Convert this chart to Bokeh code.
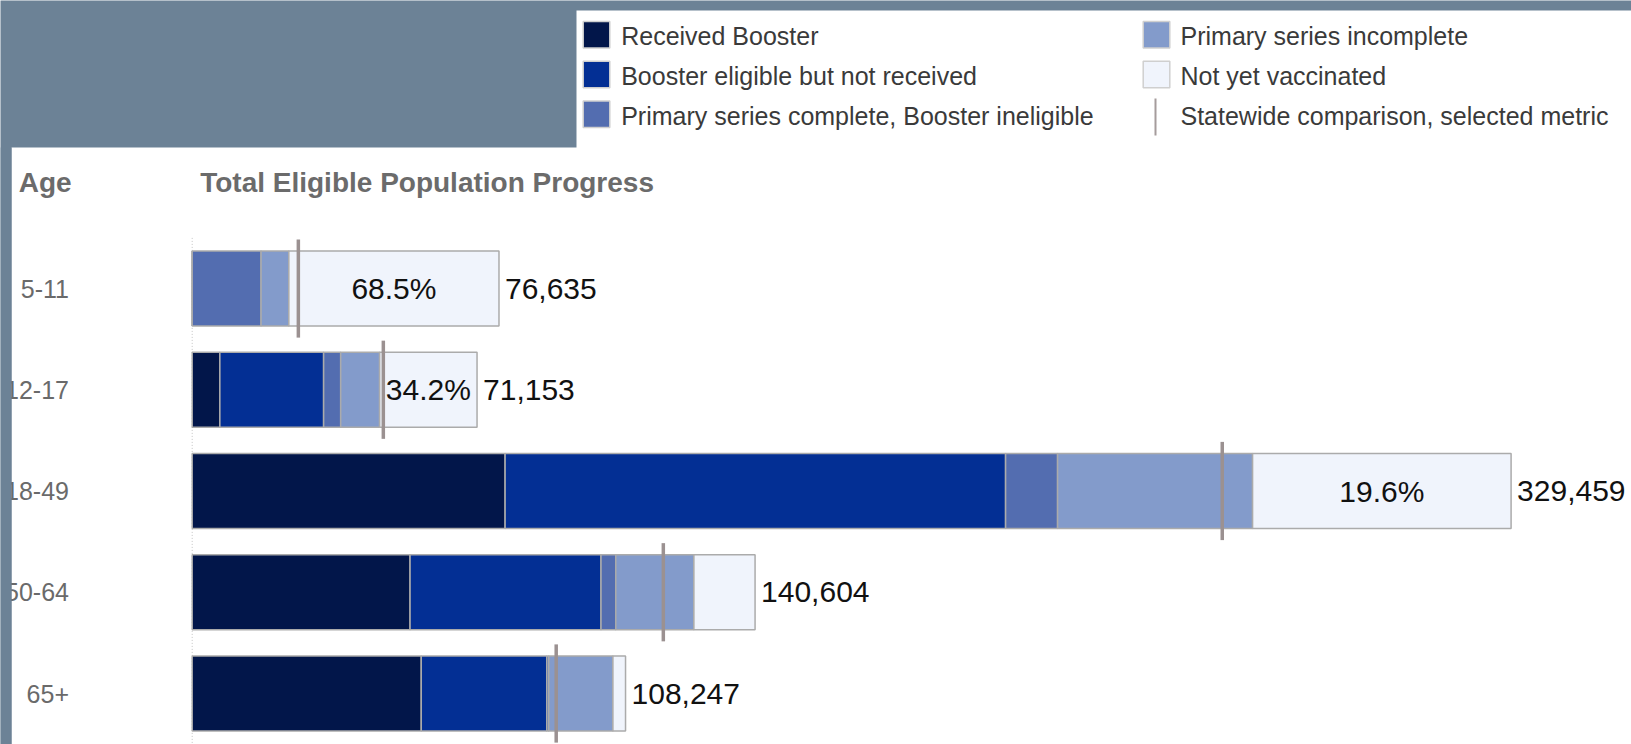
from bokeh.plotting import figure
from bokeh.models import ColumnDataSource, Range1d
from bokeh.core.properties import value
from bokeh.embed import file_html
from bokeh.resources import INLINE

# ---------------- data ----------------
ages = ["5-11", "12-17", "18-49", "50-64", "65+"]
received_booster = [0, 6910, 78165, 54420, 57220]
booster_eligible = [0, 25920, 125020, 47700, 31350]
primary_complete = [17200, 4265, 12990, 3690, 500]
primary_incomplete = [6940, 9724, 48710, 19510, 16020]
not_vaccinated = [52495, 24334, 64574, 15284, 3157]
statewide_share = [0.346, 0.671, 0.781, 0.837, 0.840]

series_names = ["Received Booster", "Booster eligible but not received",
                "Primary series complete, Booster ineligible",
                "Primary series incomplete", "Not yet vaccinated"]
marker_name = "Statewide comparison, selected metric"
header_left = "Age"
header_title = "Total Eligible Population Progress"

# ---------------- style ----------------
series_colors = ["#02164a", "#032f94", "#536db0", "#839bcb", "#f0f4fc"]
GRAY_BG = "#6c8296"
MARK_COLOR = "#9b9191"
FONT = value("Liberation Sans")

W, H = 1631, 744
ZERO_PX, PER_PX = 191.7, 249.8      # canvas px of value 0, people per px
ROW0_PX, ROW_PX = 288.0, 101.25     # canvas px of first row, px per row


def X(px):
    return (px - ZERO_PX) * PER_PX


def Y(py):
    return (py - ROW0_PX) / ROW_PX


rows = list(range(len(ages)))
keys = ["booster", "eligible", "complete", "incomplete", "notvax"]
series = [received_booster, booster_eligible, primary_complete,
          primary_incomplete, not_vaccinated]
totals = [sum(v) for v in zip(*series)]

data = dict(row=rows)
for k, s in zip(keys, series):
    data[k] = s
source = ColumnDataSource(data)

p = figure(width=W, height=H, x_range=Range1d(X(0), X(W)),
           y_range=Range1d(Y(H), Y(0)), output_backend="svg",
           toolbar_location=None, min_border=0,
           x_axis_location=None, y_axis_location=None)
p.grid.visible = False
p.outline_line_color = None
p.background_fill_color = GRAY_BG
p.border_fill_color = GRAY_BG

# white panels (legend panel and chart panel)
p.quad(left=X(576), right=X(W), top=Y(10), bottom=Y(149),
       fill_color="white", line_color=None)
p.quad(left=X(11), right=X(W), top=Y(147), bottom=Y(H),
       fill_color="white", line_color=None)

# dotted zero line
p.segment(x0=[0], y0=[-0.5], x1=[0], y1=[len(ages) - 0.4],
          line_color="#c4c4c4", line_width=1, line_dash="1 2")

# stacked bars
p.hbar_stack(keys, y="row", height=0.74, source=source,
             fill_color=series_colors, line_color="#ababab", line_width=1.5)

# statewide comparison markers
marker_x = [s * t for s, t in zip(statewide_share, totals)]
p.segment(x0=marker_x, y0=[r - 0.485 for r in rows], x1=marker_x,
          y1=[r + 0.485 for r in rows], line_color=MARK_COLOR, line_width=3.5)

# percent labels (not yet vaccinated share)
pct_x, pct_y, pct_t = [], [], []
for r, nv, t in zip(rows, not_vaccinated, totals):
    share = 100.0 * nv / t
    if share >= 15:
        pct_x.append(t - nv / 2.0)
        pct_y.append(r)
        pct_t.append(f"{share:.1f}%")
p.text(x=pct_x, y=pct_y, text=pct_t, text_font=FONT, text_font_size="30px",
       text_color="#111111", text_align="center", text_baseline="middle")

# total labels
p.text(x=totals, y=rows, text=[f"{t:,}" for t in totals], x_offset=6,
       text_font=FONT, text_font_size="30px", text_color="#111111",
       text_align="left", text_baseline="middle")

# row labels
p.text(x=[0] * len(ages), y=rows, text=ages, x_offset=-(ZERO_PX - 68.5),
       text_font=FONT, text_font_size="25px", text_color="#6a6a6a",
       text_align="right", text_baseline="middle")

# headers
p.text(x=[X(18.3)], y=[Y(181.5)], text=[header_left], text_font=FONT,
       text_font_size="28px", text_font_style="bold", text_color="#6b6b6b",
       text_baseline="middle")
p.text(x=[0], y=[Y(181.5)], text=[header_title], x_offset=8, text_font=FONT,
       text_font_size="28px", text_font_style="bold", text_color="#6b6b6b",
       text_baseline="middle")

# legend
leg_rows_px = [34.3, 74.0, 113.7]
leg_cols_px = [596.0, 1156.0]
leg_text_px = [620.7, 1180.0]
sw_x, sw_y, sw_c, lt_x, lt_y = [], [], [], [], []
for i, (name, col) in enumerate(zip(series_names, series_colors)):
    c, r = divmod(i, 3)
    sw_x.append(X(leg_cols_px[c]))
    sw_y.append(Y(leg_rows_px[r]))
    sw_c.append(col)
    lt_x.append(X(leg_text_px[c]))
    lt_y.append(Y(leg_rows_px[r] + 1.5))
p.rect(x=sw_x, y=sw_y, width=26.6, height=26.6, width_units="screen",
       height_units="screen", fill_color=sw_c, line_color="#cfcfcf",
       line_width=1.5)
p.segment(x0=[X(1155)], y0=[Y(98)], x1=[X(1155)], y1=[Y(135)],
          line_color="#a59c9c", line_width=2)
lt_x.append(X(leg_text_px[1]))
lt_y.append(Y(leg_rows_px[2] + 1.5))
p.text(x=lt_x, y=lt_y, text=series_names + [marker_name], text_font=FONT,
       text_font_size="25px", text_color="#3a3a3a", text_align="left",
       text_baseline="middle")

# thin gray strip left of the chart panel (clips row labels)
p.quad(left=X(0), right=X(11), top=Y(147), bottom=Y(H),
       fill_color=GRAY_BG, line_color=None)

open("out.html", "w").write(file_html(p, INLINE))
